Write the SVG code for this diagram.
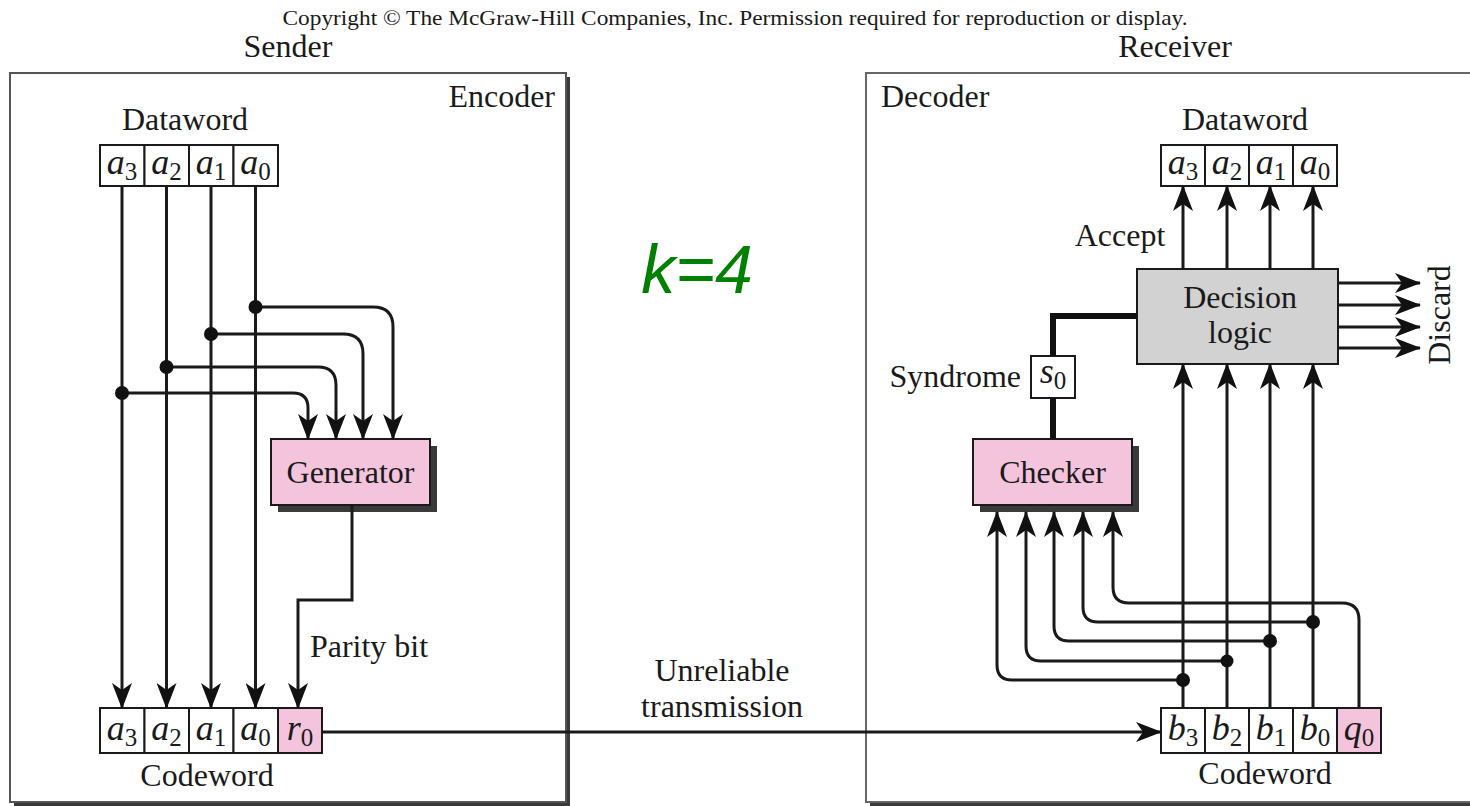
<svg xmlns="http://www.w3.org/2000/svg" width="1470" height="806" viewBox="0 0 1470 806">
<style>
.t{font-family:"Liberation Serif","Times New Roman",serif;font-size:32px;fill:#1a1a1a}
.m{text-anchor:middle}
.e{text-anchor:end}
.cell{font-family:"Liberation Serif","Times New Roman",serif;font-size:36px;fill:#1a1a1a;text-anchor:middle}
.v{font-style:italic}
.sub{font-size:25px}
.box{fill:#fff;stroke:#1a1a1a;stroke-width:2}
.pink{fill:#f4c4dc;stroke:#1a1a1a;stroke-width:2}
.gray{fill:#d2d2d2;stroke:#1a1a1a;stroke-width:2}
.shadow{fill:#3a3a3a}
.ar{fill:none;stroke:#1a1a1a;stroke-width:3;marker-end:url(#ah)}
.thick{fill:none;stroke:#111;stroke-width:6}
.dot{fill:#111}
</style>
<defs>
<marker id="ah" viewBox="0 0 26 20" refX="25" refY="10" markerWidth="26" markerHeight="20" markerUnits="userSpaceOnUse" orient="auto">
<path d="M0,0 L26,10 L0,20 L7,10 Z" fill="#111"/>
</marker>
</defs>
<rect width="1470" height="806" fill="#fff"/>

<text class="t m" x="735" y="25" textLength="905" lengthAdjust="spacingAndGlyphs" style="font-size:21px">Copyright © The McGraw-Hill Companies, Inc. Permission required for reproduction or display.</text>
<text class="t m" x="288" y="57">Sender</text>
<text class="t m" x="1175" y="57">Receiver</text>

<g id="encoder">
<rect x="14" y="77" width="556" height="729" class="shadow"/>
<rect x="10" y="73" width="556" height="729" fill="#fff" stroke="#555" stroke-width="2"/>
<text class="t e" x="555" y="107">Encoder</text>
</g>

<g id="decoder">
<rect x="870" y="77" width="640" height="729" class="shadow"/>
<rect x="866" y="73" width="640" height="729" fill="#fff" stroke="#666" stroke-width="2"/>
<text class="t" x="881" y="107">Decoder</text>
</g>

<g id="k-label">
<text x="697" y="293" text-anchor="middle" font-family="'Liberation Sans',Arial,sans-serif" font-style="italic" font-size="68" fill="#008000">k=4</text>
</g>

<g id="sender-dataword">
<text class="t m" x="185" y="130">Dataword</text>
<rect x="100" y="145" width="44.5" height="41" class="box"/>
<rect x="144.5" y="145" width="44.5" height="41" class="box"/>
<rect x="189" y="145" width="44.5" height="41" class="box"/>
<rect x="233.5" y="145" width="44.5" height="41" class="box"/>
<text class="cell" x="122" y="174"><tspan class="v">a</tspan><tspan class="sub" dy="6">3</tspan></text>
<text class="cell" x="166.5" y="174"><tspan class="v">a</tspan><tspan class="sub" dy="6">2</tspan></text>
<text class="cell" x="211" y="174"><tspan class="v">a</tspan><tspan class="sub" dy="6">1</tspan></text>
<text class="cell" x="255.5" y="174"><tspan class="v">a</tspan><tspan class="sub" dy="6">0</tspan></text>
</g>

<g id="generator">
<rect x="278" y="446" width="159" height="66" class="shadow"/>
<rect x="271" y="439" width="159" height="66" class="pink"/>
<text class="t m" x="350.5" y="483">Generator</text>
</g>

<g id="sender-codeword">
<rect x="100" y="708" width="44.5" height="45" class="box"/>
<rect x="144.5" y="708" width="44.5" height="45" class="box"/>
<rect x="189" y="708" width="44.5" height="45" class="box"/>
<rect x="233.5" y="708" width="44.5" height="45" class="box"/>
<rect x="278" y="708" width="44" height="45" class="pink"/>
<text class="cell" x="122" y="740"><tspan class="v">a</tspan><tspan class="sub" dy="6">3</tspan></text>
<text class="cell" x="166.5" y="740"><tspan class="v">a</tspan><tspan class="sub" dy="6">2</tspan></text>
<text class="cell" x="211" y="740"><tspan class="v">a</tspan><tspan class="sub" dy="6">1</tspan></text>
<text class="cell" x="255.5" y="740"><tspan class="v">a</tspan><tspan class="sub" dy="6">0</tspan></text>
<text class="cell" x="300" y="740"><tspan class="v">r</tspan><tspan class="sub" dy="6">0</tspan></text>
<text class="t m" x="207" y="786">Codeword</text>
</g>

<g id="parity-label">
<text class="t m" x="369" y="657">Parity bit</text>
</g>

<g id="transmission-label">
<text class="t m" x="722" y="681">Unreliable</text>
<text class="t m" x="722" y="717">transmission</text>
</g>

<g id="receiver-dataword">
<text class="t m" x="1245" y="130">Dataword</text>
<rect x="1161" y="145" width="44" height="41" class="box"/>
<rect x="1205" y="145" width="44" height="41" class="box"/>
<rect x="1249" y="145" width="44" height="41" class="box"/>
<rect x="1293" y="145" width="44" height="41" class="box"/>
<text class="cell" x="1183" y="174"><tspan class="v">a</tspan><tspan class="sub" dy="6">3</tspan></text>
<text class="cell" x="1227" y="174"><tspan class="v">a</tspan><tspan class="sub" dy="6">2</tspan></text>
<text class="cell" x="1271" y="174"><tspan class="v">a</tspan><tspan class="sub" dy="6">1</tspan></text>
<text class="cell" x="1315" y="174"><tspan class="v">a</tspan><tspan class="sub" dy="6">0</tspan></text>
</g>

<g id="accept-label">
<text class="t m" x="1120" y="246">Accept</text>
</g>

<g id="decision-logic">
<rect x="1137" y="269" width="201" height="95" class="gray"/>
<text class="t m" x="1240" y="308">Decision</text>
<text class="t m" x="1240" y="343">logic</text>
</g>

<g id="discard-label">
<text class="t m" transform="translate(1450,315) rotate(-90)">Discard</text>
</g>

<g id="syndrome">
<text class="t e" x="1021" y="387">Syndrome</text>
<rect x="1031" y="356" width="44" height="42" class="box"/>
<text class="cell" x="1053" y="383"><tspan class="v">s</tspan><tspan class="sub" dy="6">0</tspan></text>
</g>

<g id="checker">
<rect x="980" y="446" width="159" height="66" class="shadow"/>
<rect x="973" y="439" width="159" height="66" class="pink"/>
<text class="t m" x="1052.5" y="483">Checker</text>
</g>

<g id="receiver-codeword">
<rect x="1161" y="708" width="44" height="45" class="box"/>
<rect x="1205" y="708" width="44" height="45" class="box"/>
<rect x="1249" y="708" width="44" height="45" class="box"/>
<rect x="1293" y="708" width="44" height="45" class="box"/>
<rect x="1337" y="708" width="44" height="45" class="pink"/>
<text class="cell" x="1183" y="740"><tspan class="v">b</tspan><tspan class="sub" dy="6">3</tspan></text>
<text class="cell" x="1227" y="740"><tspan class="v">b</tspan><tspan class="sub" dy="6">2</tspan></text>
<text class="cell" x="1271" y="740"><tspan class="v">b</tspan><tspan class="sub" dy="6">1</tspan></text>
<text class="cell" x="1315" y="740"><tspan class="v">b</tspan><tspan class="sub" dy="6">0</tspan></text>
<text class="cell" x="1359" y="740"><tspan class="v">q</tspan><tspan class="sub" dy="6">0</tspan></text>
<text class="t m" x="1265" y="784">Codeword</text>
</g>

<g id="connectors">
<path class="ar" d="M122,186 V708"/>
<path class="ar" d="M166.5,186 V708"/>
<path class="ar" d="M211,186 V708"/>
<path class="ar" d="M255.5,186 V708"/>
<path class="ar" d="M255.5,307 H373 Q393,307 393,327 V439"/>
<path class="ar" d="M211,334 H343 Q363,334 363,354 V439"/>
<path class="ar" d="M166.5,367 H318 Q336,367 336,385 V439"/>
<path class="ar" d="M122,393 H293 Q308,393 308,408 V439"/>
<circle class="dot" cx="255.5" cy="307" r="7"/>
<circle class="dot" cx="211" cy="334" r="7"/>
<circle class="dot" cx="166.5" cy="367" r="7"/>
<circle class="dot" cx="122" cy="393" r="7"/>
<path class="ar" d="M352,505 V600 H298 V708"/>
<path class="ar" d="M322,732 H1161"/>
<path class="ar" d="M1183,708 V364"/>
<path class="ar" d="M1227,708 V364"/>
<path class="ar" d="M1270,708 V364"/>
<path class="ar" d="M1313,708 V364"/>
<path class="ar" d="M1183,269 V186"/>
<path class="ar" d="M1227,269 V186"/>
<path class="ar" d="M1270,269 V186"/>
<path class="ar" d="M1313,269 V186"/>
<path class="ar" d="M1338,283 H1420"/>
<path class="ar" d="M1338,305 H1420"/>
<path class="ar" d="M1338,327 H1420"/>
<path class="ar" d="M1338,348 H1420"/>
<path class="thick" d="M1137,316 H1053 V356"/>
<path class="thick" d="M1053,398 V439"/>
<path class="ar" d="M1183,680 H1012 Q997,680 997,665 V512"/>
<path class="ar" d="M1227,661 H1041 Q1026,661 1026,646 V512"/>
<path class="ar" d="M1270,641 H1069 Q1054,641 1054,626 V512"/>
<path class="ar" d="M1313,622 H1098 Q1083,622 1083,607 V512"/>
<path class="ar" d="M1359,708 V620 Q1359,603 1342,603 H1129 Q1113,603 1113,587 V512"/>
<circle class="dot" cx="1183" cy="680" r="7"/>
<circle class="dot" cx="1227" cy="661" r="6.5"/>
<circle class="dot" cx="1270" cy="641" r="7"/>
<circle class="dot" cx="1313" cy="622" r="7"/>
</g>
</svg>
